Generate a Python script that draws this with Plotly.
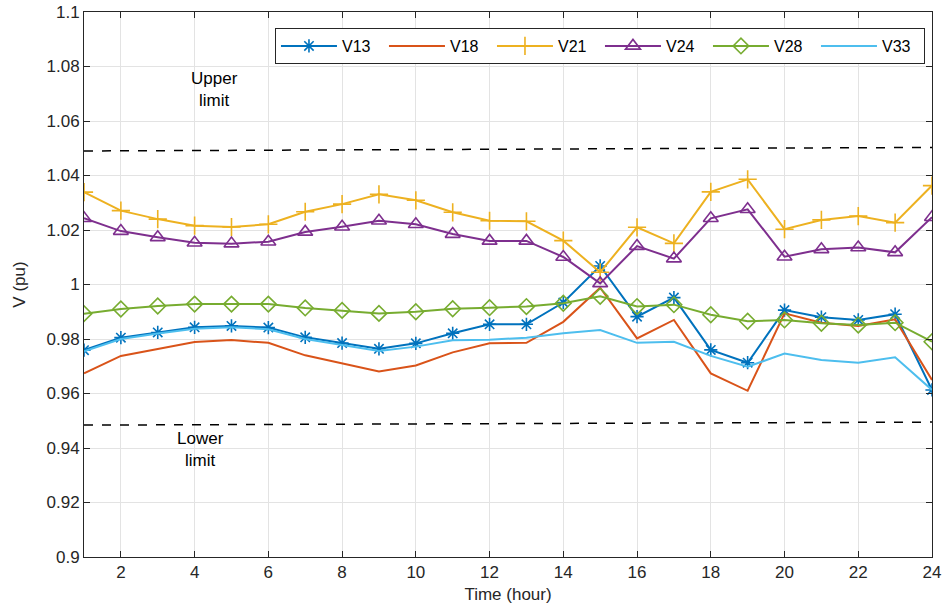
import plotly.graph_objects as go

hours = list(range(1, 25))
V13 = [0.9759, 0.9805, 0.9824, 0.9843, 0.9848, 0.9842, 0.9806, 0.9785, 0.9764, 0.9784, 0.9821, 0.9854,
       0.9854, 0.9934, 1.0068, 0.9882, 0.9952, 0.9760, 0.9713, 0.9906, 0.9880, 0.9870, 0.9891, 0.9613]
V18 = [0.9674, 0.9738, 0.9763, 0.9789, 0.9796, 0.9786, 0.9740, 0.9711, 0.9681, 0.9703, 0.9751, 0.9784,
       0.9786, 0.9863, 0.9988, 0.9802, 0.9870, 0.9674, 0.9610, 0.9894, 0.9860, 0.9848, 0.9872, 0.9650]
V21 = [1.0339, 1.0271, 1.0240, 1.0216, 1.0211, 1.0221, 1.0267, 1.0295, 1.0331, 1.0309, 1.0265, 1.0234,
       1.0232, 1.0161, 1.0045, 1.0210, 1.0151, 1.0340, 1.0386, 1.0203, 1.0237, 1.0251, 1.0227, 1.0363]
V24 = [1.0243, 1.0196, 1.0173, 1.0153, 1.0150, 1.0157, 1.0193, 1.0212, 1.0234, 1.0221, 1.0185, 1.0160,
       1.0160, 1.0101, 1.0004, 1.0141, 1.0095, 1.0243, 1.0276, 1.0102, 1.0129, 1.0136, 1.0118, 1.0247]
V28 = [0.9893, 0.9910, 0.9921, 0.9928, 0.9928, 0.9928, 0.9914, 0.9905, 0.9894, 0.9900, 0.9911, 0.9915,
       0.9919, 0.9931, 0.9957, 0.9919, 0.9926, 0.9889, 0.9865, 0.9870, 0.9858, 0.9851, 0.9860, 0.9790]
V33 = [0.9755, 0.9800, 0.9820, 0.9838, 0.9843, 0.9836, 0.9800, 0.9778, 0.9756, 0.9772, 0.9795, 0.9797,
       0.9805, 0.9821, 0.9833, 0.9786, 0.9790, 0.9738, 0.9698, 0.9747, 0.9723, 0.9713, 0.9733, 0.9613]
upper_limit = [1.049, 1.0503]
lower_limit = [0.9484, 0.9495]
limit_x = [1, 24]

FONT = "Liberation Sans, Arial, sans-serif"
fig = go.Figure()

series = [
    ("V13", V13, "#0072BD", "asterisk-open", 11),
    ("V18", V18, "#D95319", None, 0),
    ("V21", V21, "#EDB120", "cross-thin-open", 13),
    ("V24", V24, "#7E2F8E", "triangle-up-open", 13),
    ("V28", V28, "#77AC30", "diamond-open", 12),
    ("V33", V33, "#4DBEEE", None, 0),
]
for name, vals, col, sym, size in series:
    if sym:
        fig.add_trace(go.Scatter(x=hours, y=vals, name=name, mode="lines+markers",
                                 line=dict(color=col, width=2),
                                 marker=dict(symbol=sym, size=size, color=col,
                                             line=dict(color=col, width=1.6))))
    else:
        fig.add_trace(go.Scatter(x=hours, y=vals, name=name, mode="lines",
                                 line=dict(color=col, width=2)))

for lim in (upper_limit, lower_limit):
    fig.add_trace(go.Scatter(x=limit_x, y=lim, mode="lines", showlegend=False,
                             line=dict(color="black", width=1.5, dash="dash"),
                             hoverinfo="skip"))

fig.add_annotation(x=4.55, y=1.0717, text="Upper<br>limit", showarrow=False,
                   font=dict(family=FONT, size=17, color="black"), align="center")
fig.add_annotation(x=4.15, y=0.9396, text="Lower<br>limit", showarrow=False,
                   font=dict(family=FONT, size=17, color="black"), align="center")

fig.update_layout(
    width=945, height=608,
    margin=dict(l=84, r=13, t=12, b=51),
    paper_bgcolor="white", plot_bgcolor="white",
    font=dict(family=FONT, size=17, color="#262626"),
    legend=dict(orientation="h", x=0.2252, y=0.9706, xanchor="left", yanchor="top",
                bgcolor="white", bordercolor="#262626", borderwidth=1,
                font=dict(family=FONT, size=16, color="black"),
                itemwidth=56, entrywidth=37, tracegroupgap=0),
    showlegend=True,
)
fig.update_xaxes(range=[1, 24], tickvals=list(range(2, 25, 2)), showgrid=True,
                 gridcolor="#e3e3e3", gridwidth=1, zeroline=False, automargin=False,
                 showline=True, linecolor="#262626", linewidth=1, mirror="ticks",
                 ticks="inside", ticklen=6, tickcolor="#262626",
                 title=dict(text="Time (hour)", standoff=6, font=dict(size=17)))
fig.update_yaxes(range=[0.9, 1.1], tickvals=[0.9 + 0.02 * i for i in range(11)],
                 ticktext=["0.9", "0.92", "0.94", "0.96", "0.98", "1", "1.02", "1.04", "1.06", "1.08", "1.1"],
                 showgrid=True, gridcolor="#e3e3e3", gridwidth=1, zeroline=False, automargin=False,
                 showline=True, linecolor="#262626", linewidth=1, mirror="ticks",
                 ticks="inside", ticklen=6, tickcolor="#262626",
                 title=dict(text="V (pu)", standoff=16, font=dict(size=17)))

fig.write_html("out.html")
